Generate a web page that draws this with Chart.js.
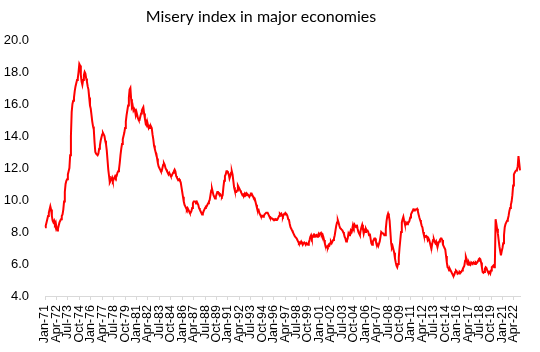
<!DOCTYPE html>
<html><head><meta charset="utf-8">
<script src="https://cdn.jsdelivr.net/npm/chart.js@4"></script>
<style>html,body{margin:0;padding:0;background:#fff}</style>
</head><body>
<canvas id="c" width="540" height="352"></canvas>
<script>
const chartTitle = "Misery index in major economies";
const startYear = 1971;
const monthNames = ["Jan","Feb","Mar","Apr","May","Jun","Jul","Aug","Sep","Oct","Nov","Dec"];
const tickEvery = 15;
const yTicks = [4, 6, 8, 10, 12, 14, 16, 18, 20];

const misery1970s = [
  8.3, 8.4, 8.6, 8.8, 9.0, 9.2, 9.4, 9.6, 9.4, 9.0, 8.7, 8.6,
  8.7, 8.5, 8.6, 8.3, 8.1, 8.2, 8.4, 8.6, 8.7, 8.8, 9.0, 9.1,
  9.4, 9.9, 10.5, 11.0, 11.2, 11.3, 11.6, 11.8, 12.0, 12.8, 14.0, 15.5,
  16.0, 16.2, 16.4, 16.8, 17.1, 17.3, 17.5, 17.6, 18.0, 18.5, 18.4, 17.8,
  17.4, 17.2, 17.5, 17.8, 18.0, 17.9, 17.6, 17.4, 17.1, 16.9, 16.4, 15.9,
  15.7, 15.3, 14.9, 14.6, 14.4, 13.6, 13.0, 12.9, 12.9, 12.8, 12.9, 13.2,
  13.4, 13.7, 13.9, 14.1, 14.2, 14.1, 14.0, 13.7, 13.5, 13.1, 12.5, 11.9,
  11.5, 11.1, 11.2, 11.3, 11.4, 11.2, 11.3, 11.4, 11.5, 11.4, 11.5, 11.7,
  11.8, 11.9, 12.3, 12.8, 13.2, 13.5, 13.8, 14.0, 14.2, 14.5, 14.9, 15.3
];
const misery1980s = [
  15.6, 15.9, 16.4, 16.9, 17.0, 16.3, 15.8, 15.9, 15.6, 15.7, 15.6, 15.3,
  15.5, 15.3, 15.1, 15.0, 15.0, 15.2, 15.4, 15.6, 15.7, 15.8, 15.4, 15.1,
  14.8, 14.9, 14.6, 14.7, 14.5, 14.6, 14.5, 14.6, 14.5, 14.1, 13.8, 13.4,
  13.2, 13.0, 12.9, 12.6, 12.3, 12.1, 12.0, 11.9, 11.8, 11.8, 12.0, 12.2,
  12.3, 12.2, 12.0, 11.9, 11.8, 11.7, 11.6, 11.7, 11.6, 11.5, 11.5, 11.6,
  11.7, 11.8, 11.9, 11.8, 11.5, 11.4, 11.3, 11.25, 11.3, 11.2, 11.1, 10.8,
  10.5, 10.2, 9.9, 9.7, 9.6, 9.5, 9.4, 9.5, 9.4, 9.3, 9.2, 9.2,
  9.3, 9.5, 9.8, 9.9, 9.9, 9.9, 9.85, 9.9, 9.8, 9.7, 9.5, 9.4,
  9.3, 9.2, 9.1, 9.15, 9.3, 9.4, 9.5, 9.6, 9.6, 9.7, 9.8, 9.9,
  10.0, 10.3, 10.6, 10.7, 10.5, 10.3, 10.2, 10.1, 10.2, 10.35, 10.5, 10.5
];
const misery1990s = [
  10.4, 10.3, 10.35, 10.25, 10.2, 10.3, 10.8, 11.2, 11.5, 11.6, 11.8, 11.8,
  11.7, 11.6, 11.35, 11.5, 11.7, 11.8, 11.6, 11.2, 10.8, 10.6, 10.5, 10.5,
  10.6, 10.9, 10.8, 10.7, 10.6, 10.5, 10.4, 10.3, 10.35, 10.3, 10.4, 10.3,
  10.4, 10.3, 10.35, 10.3, 10.2, 10.3, 10.4, 10.4, 10.3, 10.2, 10.1, 10.1,
  9.9, 9.7, 9.5, 9.4, 9.4, 9.2, 9.1, 9.0, 8.95, 9.0, 8.95, 9.0,
  9.1, 9.15, 9.2, 9.2, 9.2, 9.1, 9.0, 8.9, 8.9, 8.85, 8.85, 8.8,
  8.8, 8.75, 8.8, 8.75, 8.8, 8.8, 8.9, 9.0, 9.15, 9.1, 9.15, 9.0,
  8.95, 9.1, 9.15, 9.1, 9.15, 9.1, 9.0, 8.8, 8.75, 8.5, 8.3, 8.2,
  8.1, 8.0, 7.9, 7.8, 7.7, 7.65, 7.6, 7.5, 7.4, 7.3, 7.35, 7.3,
  7.4, 7.3, 7.2, 7.3, 7.35, 7.3, 7.2, 7.3, 7.25, 7.2, 7.35, 7.5
];
const misery2000s = [
  7.7, 7.8, 7.6, 7.7, 7.8, 7.7, 7.8, 7.75, 7.8, 7.7, 7.8, 7.9,
  7.8, 7.9, 7.95, 7.8, 7.85, 7.7, 7.5, 7.3, 7.1, 7.05, 7.1, 7.05,
  7.2, 7.15, 7.3, 7.4, 7.3, 7.4, 7.5, 7.6, 7.8, 8.1, 8.4, 8.6,
  8.75, 8.6, 8.4, 8.25, 8.2, 8.15, 8.1, 8.0, 7.9, 7.7, 7.6, 7.4,
  7.45, 7.6, 7.9, 7.8, 7.95, 8.1, 8.0, 8.2, 8.45, 8.3, 8.45, 8.35,
  8.3, 8.45, 8.2, 8.0, 7.9, 7.8, 8.1, 8.3, 8.45, 8.2, 7.9, 8.1,
  8.0, 8.2, 8.1, 8.1, 8.0, 7.8, 7.9, 7.6, 7.3, 7.2, 7.4, 7.5,
  7.6, 7.6, 7.4, 7.3, 7.2, 7.1, 7.1, 7.4, 7.7, 8.0, 8.0, 7.9,
  7.9, 7.8, 7.8, 8.2, 8.7, 9.0, 9.15, 9.0, 8.7, 8.0, 7.3, 7.0,
  7.1, 6.9, 6.7, 6.35, 6.1, 5.9, 5.8, 6.0, 6.4, 7.0, 7.5, 8.0
];
const misery2010s = [
  8.6, 8.8, 8.95, 8.7, 8.5, 8.45, 8.5, 8.6, 8.55, 8.6, 8.7, 8.9,
  9.1, 9.2, 9.3, 9.4, 9.35, 9.4, 9.4, 9.4, 9.45, 9.3, 9.1, 8.9,
  8.75, 8.6, 8.4, 8.3, 8.0, 7.8, 7.75, 7.7, 7.75, 7.7, 7.5, 7.6,
  7.5, 7.3, 7.1, 7.0, 7.3, 7.5, 7.55, 7.4, 7.3, 7.4, 7.2, 7.1,
  7.3, 7.4, 7.5, 7.6, 7.6, 7.5, 7.2, 7.1, 7.0, 6.9, 6.5, 6.1,
  5.8, 5.75, 5.6, 5.7, 5.6, 5.5, 5.4, 5.3, 5.25, 5.35, 5.5, 5.6,
  5.55, 5.4, 5.45, 5.4, 5.5, 5.45, 5.5, 5.6, 5.7, 5.8, 5.9, 6.2,
  6.45, 6.3, 6.0, 5.95, 6.1, 6.0, 5.95, 6.1, 6.05, 6.0, 6.1, 6.05,
  6.0, 6.1, 6.05, 6.1, 6.2, 6.3, 6.35, 6.3, 6.1, 5.8, 5.5, 5.45,
  5.5, 5.7, 5.8, 5.75, 5.6, 5.5, 5.45, 5.5, 5.4, 5.6, 5.8, 5.85
];
const misery2020s = [
  5.9, 5.8, 5.9, 8.8, 8.5, 8.2, 7.9, 7.5, 7.1, 6.8, 6.55, 6.8,
  7.0, 7.3, 7.8, 8.3, 8.5, 8.6, 8.7, 8.8, 9.0, 9.3, 9.5, 9.7,
  9.9, 10.3, 10.9, 11.6, 11.7, 11.8, 11.85, 11.9, 12.1, 12.75, 12.3, 11.85
];

const values = [].concat(misery1970s, misery1980s, misery1990s, misery2000s, misery2010s, misery2020s);
const categories = values.map((v, i) => monthNames[i % 12] + "-" + String((startYear + Math.floor(i / 12)) % 100).padStart(2, "0"));
const tickLabels = categories.filter((c, i) => i % tickEvery === 0);

const titlePlugin = {
  id: "customTitle",
  afterDraw(chart) {
    const ctx = chart.ctx;
    ctx.save();
    ctx.font = "16px Lato";
    ctx.fillStyle = "#000";
    ctx.textAlign = "center";
    ctx.textBaseline = "middle";
    ctx.fillText(chartTitle, 261, 17);
    ctx.restore();
  }
};

new Chart(document.getElementById("c"), {
  type: "line",
  data: {
    labels: categories,
    datasets: [{
      data: values,
      borderColor: "#ff0000",
      borderWidth: 2,
      pointRadius: 0,
      tension: 0,
      fill: false
    }]
  },
  options: {
    responsive: false,
    animation: false,
    devicePixelRatio: 1,
    layout: { padding: { top: 40, left: 0, right: 9, bottom: 0 } },
    plugins: { legend: { display: false }, title: { display: false }, tooltip: { enabled: false } },
    scales: {
      x: {
        offset: false,
        border: { color: "#d9d9d9", width: 1 },
        grid: {
          drawOnChartArea: false,
          drawTicks: true,
          tickLength: 4,
          color: (c) => (c.index % tickEvery === 0 ? "#d9d9d9" : "rgba(0,0,0,0)")
        },
        ticks: {
          autoSkip: false,
          maxRotation: 90,
          minRotation: 90,
          padding: 5,
          color: "#000",
          font: { family: "Liberation Sans", size: 12.5 },
          callback: (v, i) => (i % tickEvery === 0 ? categories[i] : "")
        },
        afterFit: (s) => { s.height = 56; }
      },
      y: {
        min: 4,
        max: 20,
        afterBuildTicks: (s) => { s.ticks = yTicks.map(v => ({ value: v })); },
        border: { display: false },
        grid: { display: false, drawTicks: false },
        ticks: {
          padding: 16,
          color: "#000",
          font: { family: "Liberation Sans", size: 13 },
          callback: (v) => Number(v).toFixed(1)
        },
        afterFit: (s) => { s.width = 45; }
      }
    }
  },
  plugins: [titlePlugin]
});
</script>
</body></html>
